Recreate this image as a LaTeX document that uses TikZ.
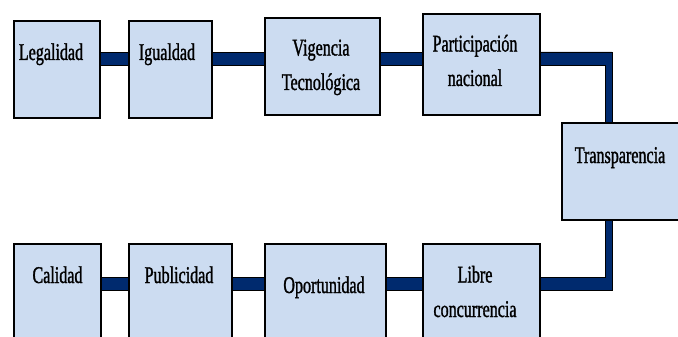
\documentclass[tikz,border=0pt]{standalone}
\usepackage{fontspec}
\setmainfont[FakeStretch=0.67,FakeBold=1.2]{Liberation Serif}
\usetikzlibrary{backgrounds,shadows}
\definecolor{boxfill}{RGB}{204,220,241}
\definecolor{navy}{RGB}{0,42,110}
\tikzset{
  box/.style={draw=black, line width=1.7pt, fill=boxfill, inner sep=0pt, anchor=north west,
    drop shadow={shadow xshift=1.2pt, shadow yshift=-1.2pt, fill=black, opacity=0.35}},
  lbl/.style={anchor=base, align=center, inner sep=0pt, text=black, font=\fontsize{24}{34.5}\selectfont},
  conn/.style={fill=navy, draw=black, line width=0.9pt}
}
\begin{document}
\begin{tikzpicture}[x=1pt,y=-1pt]
\useasboundingbox (0,0) rectangle (678,337);
\clip (0,0) rectangle (678,337);
% boxes
\node[box, minimum width=86pt, minimum height=97pt] (leg) at (13,20) {};
\node[box, minimum width=83pt, minimum height=97pt] (ig) at (128,20) {};
\node[box, minimum width=115pt, minimum height=97pt] (vig) at (264,17) {};
\node[box, minimum width=117pt, minimum height=101pt] (par) at (422,13) {};
\node[box, minimum width=130pt, minimum height=97pt] (tra) at (561,122) {};
\node[box, minimum width=117pt, minimum height=110pt] (lib) at (422,243) {};
\node[box, minimum width=121pt, minimum height=110pt] (opo) at (264,243) {};
\node[box, minimum width=103pt, minimum height=110pt] (pub) at (128,243) {};
\node[box, minimum width=87pt, minimum height=110pt] (cal) at (13,243) {};
% labels (base anchor = baseline of the last line)
\node[lbl] (tleg) at (51,60) {Legalidad};
\node[lbl] (tig) at (167,60) {Igualdad};
\node[lbl] (tvig) at (321,90) {Vigencia\\Tecnológica};
\node[lbl] (tpar) at (475,86) {Participación\\nacional};
\node[lbl] (ttra) at (620,163) {Transparencia};
\node[lbl] (tlib) at (475,317) {Libre\\concurrencia};
\node[lbl] (topo) at (324,293) {Oportunidad};
\node[lbl] (tpub) at (179,283) {Publicidad};
\node[lbl] (tcal) at (57.5,283) {Calidad};
% corner points
\coordinate (c1) at (612,52);
\coordinate (c2) at (605,65);
\coordinate (c3) at (612,290);
\coordinate (c4) at (605,277);
\coordinate (t1) at (0,52);
\coordinate (t2) at (0,65);
\coordinate (b1) at (0,277);
\coordinate (b2) at (0,290);
\begin{scope}[on background layer]
\filldraw[conn] (leg.east |- t1) rectangle (ig.west |- t2);
\filldraw[conn] (ig.east |- t1) rectangle (vig.west |- t2);
\filldraw[conn] (vig.east |- t1) rectangle (par.west |- t2);
\filldraw[conn] (par.east |- c1) -- (c1) -- (c1 |- tra.north) -- (c2 |- tra.north) -- (c2) -- (par.east |- c2) -- cycle;
\filldraw[conn] (c3 |- tra.south) -- (c3) -- (lib.east |- c3) -- (lib.east |- c4) -- (c4) -- (c4 |- tra.south) -- cycle;
\filldraw[conn] (opo.east |- b1) rectangle (lib.west |- b2);
\filldraw[conn] (pub.east |- b1) rectangle (opo.west |- b2);
\filldraw[conn] (cal.east |- b1) rectangle (pub.west |- b2);
\end{scope}
\end{tikzpicture}
\end{document}
